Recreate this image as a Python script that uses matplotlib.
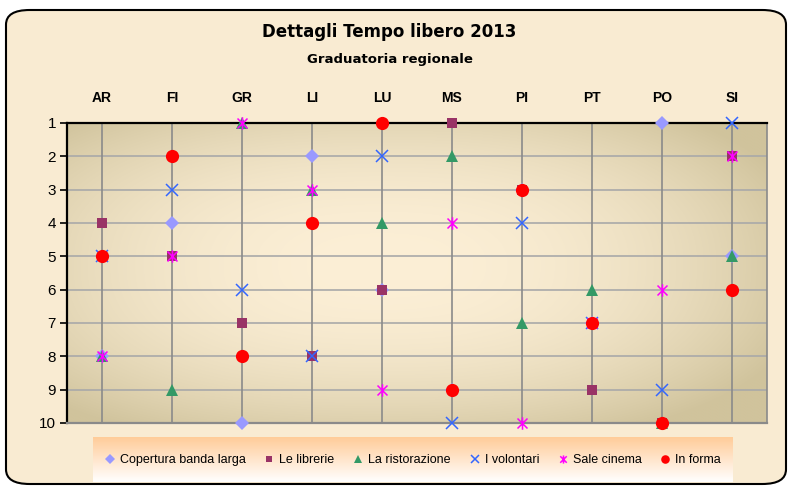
import numpy as np
import matplotlib
matplotlib.use('Agg')
from matplotlib import pyplot
from matplotlib.patches import FancyBboxPatch
from matplotlib.path import Path

regions = ['AR', 'FI', 'GR', 'LI', 'LU', 'MS', 'PI', 'PT', 'PO', 'SI']

banda_larga = [8, 4, 10, 2, 6, 9, 3, 7, 1, 5]
librerie = [4, 5, 7, 8, 6, 1, 3, 9, 10, 2]
ristorazione = [8, 9, 1, 3, 4, 2, 7, 6, 10, 5]
volontari = [5, 3, 6, 8, 2, 10, 4, 7, 9, 1]
sale_cinema = [8, 5, 1, 3, 9, 4, 10, 7, 6, 2]
in_forma = [5, 2, 8, 4, 1, 9, 3, 7, 10, 6]

series_names = ['Copertura banda larga', 'Le librerie', 'La ristorazione',
                'I volontari', 'Sale cinema', 'In forma']

# excel-like "star" marker: an x with a vertical bar
star = Path([(-1, -1), (1, 1), (-1, 1), (1, -1), (0, -1.25), (0, 1.25)],
            [Path.MOVETO, Path.LINETO, Path.MOVETO, Path.LINETO, Path.MOVETO, Path.LINETO])

styles = [
    dict(marker='D', color='#9999ff', markersize=7.5, markeredgewidth=0),
    dict(marker='s', color='#993366', markersize=7, markeredgewidth=0),
    dict(marker='^', color='#339966', markersize=8, markeredgewidth=0),
    dict(marker='x', color='#3366ff', markersize=8.5, markeredgewidth=1.1),
    dict(marker=star, color='#ff00ff', markersize=9, markeredgewidth=1.1),
    dict(marker='o', color='#ff0000', markersize=9.5, markeredgewidth=0),
]

fig = pyplot.figure(figsize=(7.92, 4.87), dpi=100, facecolor='white')

# outer rounded frame
frame = FancyBboxPatch((6 / 792, 3 / 487), 780 / 792, 474 / 487,
                       boxstyle='round,pad=0,rounding_size=0.03',
                       transform=fig.transFigure, facecolor='#f9ebd2',
                       edgecolor='black', linewidth=1.5, zorder=-10)
fig.patches.append(frame)

ax = fig.add_axes([67 / 792, 64 / 487, 700 / 792, 300 / 487])
ax.set_facecolor('none')

# plot area background gradient (tan edges, light centre)
u = np.linspace(-1, 1, 300)
v = np.linspace(-1, 1, 200)
U, V = np.meshgrid(u, v)
t = np.clip(np.sqrt((np.abs(U + 0.1) ** 2.4) + (np.abs(V + 0.05) ** 2.4)), 0, 1.3) / 1.3
t = t ** 1.8
edge = np.array([0xd0, 0xc3, 0x9c]) / 255
centre = np.array([0xfc, 0xef, 0xd6]) / 255
img = centre + (edge - centre) * t[..., None]
ax.imshow(img, extent=(-0.5, 9.5, 10, 1), aspect='auto', zorder=0, interpolation='bilinear')

x = np.arange(len(regions))
all_series = [banda_larga, librerie, ristorazione, volontari, sale_cinema, in_forma]
for name, vals, st in zip(series_names, all_series, styles):
    ax.plot(x, vals, linestyle='none', label=name, clip_on=False, zorder=3, **st)

ax.set_xlim(-0.5, 9.5)
ax.set_ylim(10, 1)
ax.set_yticks(range(1, 11))
ax.set_xticks(x)
ax.set_xticklabels(regions, fontsize=10, fontweight='bold', family='Liberation Sans')
ax.xaxis.tick_top()
ax.tick_params(axis='x', length=0, pad=13)
ax.tick_params(axis='y', length=5, width=1.2, direction='out', labelsize=11, pad=3)
for lab in ax.get_yticklabels():
    lab.set_family('Liberation Sans')

for yv in range(2, 10):
    ax.axhline(yv, color='#a9a9a9', linewidth=1.2, zorder=1)
for xv in x:
    ax.axvline(xv, color='#8a8a8a', linewidth=1.2, zorder=1)

ax.spines['left'].set_linewidth(1.6)
ax.spines['top'].set_linewidth(1.6)
ax.spines['right'].set_color('#8a8a8a')
ax.spines['right'].set_linewidth(1.2)
ax.spines['bottom'].set_color('#8a8a8a')
ax.spines['bottom'].set_linewidth(1.6)

fig.text(0.492, 0.934, 'Dettagli Tempo libero 2013', ha='center', va='center',
         fontsize=12, fontweight='bold')
fig.text(0.492, 0.877, 'Graduatoria regionale', ha='center', va='center',
         fontsize=9.5, fontweight='bold')

# legend box with peach-to-white gradient
lax = fig.add_axes([93 / 792, 5 / 487, 640 / 792, 45 / 487])
grad = np.linspace(0, 1, 100)[:, None]
top = np.array([0xff, 0xcc, 0x99]) / 255
bottom = np.array([0xff, 0xff, 0xff]) / 255
limg = top + (bottom - top) * grad[..., None]
lax.imshow(np.repeat(limg, 2, axis=1), aspect='auto', extent=(0, 1, 0, 1))
lax.axis('off')

handles, labels = ax.get_legend_handles_labels()
leg = fig.legend(handles, labels, loc='center', bbox_to_anchor=(413 / 792, 27 / 487),
                 ncol=6, frameon=False, handlelength=0.8,
                 handletextpad=0.4, columnspacing=1.5, markerscale=0.65,
                 prop={'family': 'Liberation Sans', 'size': 9})

pyplot.savefig('out.png', dpi=100)
